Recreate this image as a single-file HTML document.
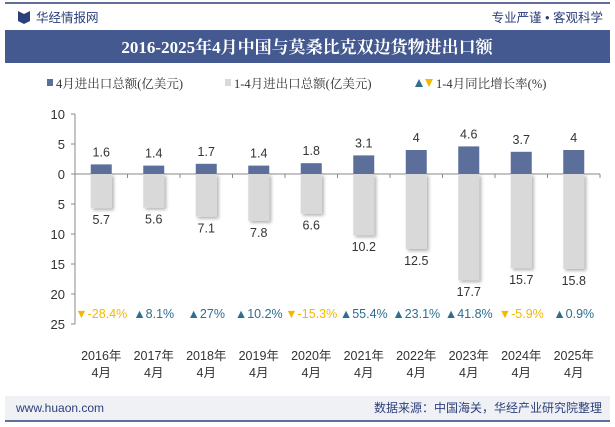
<!DOCTYPE html>
<html><head><meta charset="utf-8"><style>
body{margin:0;width:615px;height:427px;background:#fff;overflow:hidden;font-family:"Liberation Sans","Noto Sans CJK SC",sans-serif}
svg{display:block}
</style></head><body>
<svg width="615" height="427" xmlns="http://www.w3.org/2000/svg" id="chart">
<defs><filter id="sh" x="-30%" y="-10%" width="160%" height="130%"><feDropShadow dx="2" dy="2" stdDeviation="1.5" flood-color="#000" flood-opacity="0.3"/></filter></defs>
<line x1="5" y1="3" x2="610" y2="3" stroke="#2b3f7a" stroke-width="1.5"/>
<g><path d="M18 11 L24 14 L24 24 L18 21 Z M30 11 L24 14 L24 24 L30 21 Z" fill="#2b3f7a"/>
<text x="36" y="22" font-size="12.5" fill="#2b3f7a">华经情报网</text></g>
<text x="603" y="22" font-size="12.5" fill="#2b3f7a" text-anchor="end">专业严谨 • 客观科学</text>
<rect x="5" y="30" width="605" height="33" fill="#44598f"/>
<text x="307" y="53" font-size="17" font-weight="bold" fill="#fff" text-anchor="middle" font-family="'Liberation Serif','Noto Serif CJK SC',serif">2016-2025年4月中国与莫桑比克双边货物进出口额</text>
<g font-size="12.5" fill="#333" font-family="'Liberation Serif','Noto Serif CJK SC',serif">
<g><rect x="47" y="79" width="6" height="7" fill="#5b6f9a"/><text x="56" y="88">4月进出口总额(亿美元)</text></g>
<g><rect x="225" y="79" width="6" height="7" fill="#d9d9d9"/><text x="234" y="88">1-4月进出口总额(亿美元)</text></g>
<g><path d="M415 87 L419 79 L423 87Z" fill="#2e6e8e"/><path d="M425 79 L433 79 L429 87Z" fill="#f5b800"/><text x="436" y="88">1-4月同比增长率(%)</text></g>
</g>
<g id="plot"></g>
<rect x="5" y="396" width="605" height="24" fill="#f0f1f5"/>
<line x1="5" y1="421" x2="610" y2="421" stroke="#2b3f7a" stroke-width="1.5"/>
<text x="16" y="412" font-size="12" fill="#2b3f7a">www.huaon.com</text>
<text x="602" y="412" font-size="12" fill="#2b3f7a" text-anchor="end">数据来源：中国海关，华经产业研究院整理</text>
</svg>
<script>
const categories=["2016年","2017年","2018年","2019年","2020年","2021年","2022年","2023年","2024年","2025年"];
const monthly=[1.6,1.4,1.7,1.4,1.8,3.1,4,4.6,3.7,4];
const cumulative=[5.7,5.6,7.1,7.8,6.6,10.2,12.5,17.7,15.7,15.8];
const growth=[-28.4,8.1,27,10.2,-15.3,55.4,23.1,41.8,-5.9,0.9];
const yTicks=[10,5,0,5,10,15,20,25];
const yTickVals=[10,5,0,-5,-10,-15,-20,-25];
const NS="http://www.w3.org/2000/svg";
const g=document.getElementById('plot');
const x0=75,cw=52.5,zeroY=174,pu=6;
const X=i=>x0+cw*(i+0.5);
const Y=v=>zeroY-v*pu;
function mk(t,a,p){const e=document.createElementNS(NS,t);for(const k in a)e.setAttribute(k,a[k]);(p||g).appendChild(e);return e;}
mk('line',{x1:x0,y1:Y(10),x2:x0,y2:Y(-25),stroke:'#888'});
yTickVals.forEach((v,i)=>{
 mk('line',{x1:x0-4,y1:Y(v),x2:x0,y2:Y(v),stroke:'#888'});
 const t=mk('text',{x:x0-10,y:Y(v)+5,'font-size':13,fill:'#333','text-anchor':'end'});t.textContent=yTicks[i];
 
 
});
mk('line',{x1:x0,y1:zeroY,x2:x0+cw*categories.length,y2:zeroY,stroke:'#888'});
categories.forEach((c,i)=>{
 const cx=X(i);
 mk('line',{x1:x0+cw*(i+1),y1:zeroY,x2:x0+cw*(i+1),y2:zeroY+4,stroke:'#888'});
 const cb=mk('rect',{x:cx-10.5,y:zeroY,width:21,height:cumulative[i]*pu,fill:'#d9d9d9',filter:'url(#sh)'});
 
 
 const mb=mk('rect',{x:cx-10.5,y:Y(monthly[i]),width:21,height:monthly[i]*pu,fill:'#5b6f9a'});
 
 
 const t1=mk('text',{x:cx,y:Y(monthly[i])-8,'font-size':12.5,fill:'#333','text-anchor':'middle'});t1.textContent=monthly[i];
 
 
 const t2=mk('text',{x:cx,y:Y(-cumulative[i])+16,'font-size':12.5,fill:'#333','text-anchor':'middle'});t2.textContent=cumulative[i];
 
 
 const up=growth[i]>=0,col=up?'#2e6e8e':'#f5b800';
 const gt=mk('text',{x:cx,y:318,'font-size':12.5,fill:col,'text-anchor':'middle'});gt.textContent=(up?'▲':'▼')+growth[i]+'%';
 
 
 const l1=mk('text',{x:cx,y:360,'font-size':12.5,fill:'#333','text-anchor':'middle'});l1.textContent=c;
 
 
 const l2=mk('text',{x:cx,y:377,'font-size':12.5,fill:'#333','text-anchor':'middle'});l2.textContent='4月';
 
 
});
</script>
</body></html>
